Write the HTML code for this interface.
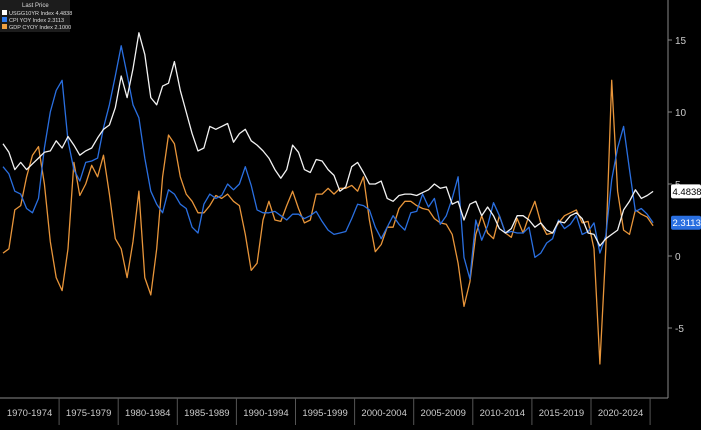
<!DOCTYPE html>
<html><head><meta charset="utf-8">
<style>
html,body{margin:0;padding:0;background:#000;}
body{width:701px;height:425px;overflow:hidden;font-family:"Liberation Sans",sans-serif;}
</style></head>
<body>
<svg id="chart" width="701" height="425" viewBox="0 0 701 425" xmlns="http://www.w3.org/2000/svg">
<rect x="0" y="0" width="701" height="425" fill="#000"/>
<g id="grid"></g>
<g id="series"></g>
<g id="legend">
<rect x="0" y="0" width="70" height="32" fill="#1c1c1c"/>
<text x="22" y="7" fill="#ddd" font-size="6">Last Price</text>
<g><rect x="2" y="10" width="5" height="5" fill="#fff"/><text x="9" y="15" fill="#ddd" font-size="5.5">USGG10YR Index 4.4838</text></g>
<g><rect x="2" y="17" width="5" height="5" fill="#2e7bf0"/><text x="9" y="22" fill="#ddd" font-size="5.5">CPI YOY Index   2.3113</text></g>
<g><rect x="2" y="24" width="5" height="5" fill="#f0a040"/><text x="9" y="29" fill="#ddd" font-size="5.5">GDP CYOY Index 2.1000</text></g>
</g>
<g id="tags"></g>
</svg>
<script>
const startYear = 1970;
const stepYears = 0.5;
const yTicks = [15, 10, 5, 0, -5];
const periodLabels = ["1970-1974","1975-1979","1980-1984","1985-1989","1990-1994","1995-1999","2000-2004","2005-2009","2010-2014","2015-2019","2020-2024"];
const us10y = [7.8,7.2,6.0,6.5,6.0,6.4,6.8,7.2,7.3,8.0,7.5,8.3,7.7,7.0,7.3,7.5,8.2,8.8,9.1,10.3,12.5,11.0,13.0,15.5,14.0,11.0,10.5,11.8,12.0,13.5,11.5,10.0,8.5,7.3,7.5,9.0,8.8,9.0,9.2,7.9,8.5,8.8,8.0,7.7,7.3,6.8,6.0,5.4,6.0,7.7,7.2,6.0,5.8,6.7,6.6,6.0,5.6,4.5,4.8,6.2,6.5,5.8,5.0,5.0,5.2,4.0,3.8,4.2,4.3,4.3,4.2,4.4,4.6,5.0,4.7,4.8,3.6,3.8,2.5,3.6,3.8,2.8,3.4,2.8,1.9,1.6,1.9,2.8,2.8,2.5,2.0,2.3,1.8,1.6,2.4,2.3,2.8,3.0,2.6,1.6,1.5,0.7,1.2,1.5,1.8,3.2,3.8,4.6,4.0,4.2,4.4838];
const cpi = [6.2,5.7,4.5,4.3,3.3,3.0,4.0,7.5,10.0,11.5,12.2,8.0,6.0,5.2,6.5,6.6,6.8,8.9,10.5,12.5,14.6,12.6,10.5,9.6,6.8,4.5,3.6,3.0,4.6,4.3,3.6,3.3,2.0,1.6,3.6,4.3,4.0,4.2,5.0,4.6,5.0,6.2,4.9,3.2,3.0,3.0,3.1,2.8,2.5,2.9,2.9,2.6,2.8,3.1,2.4,1.8,1.5,1.6,1.7,2.6,3.6,3.5,3.2,2.0,1.2,2.0,2.8,2.2,1.8,3.0,3.1,4.3,3.4,4.0,2.2,2.8,4.0,5.5,-0.1,-1.6,2.5,1.1,2.1,3.7,2.8,1.6,1.7,1.6,1.6,2.0,-0.1,0.2,0.9,1.2,2.5,1.9,2.2,2.8,1.5,1.7,2.3,0.2,1.4,5.3,7.5,9.0,6.0,3.1,3.3,2.9,2.3113];
const gdp = [0.2,0.5,3.2,3.5,5.5,7.0,7.6,5.0,1.0,-1.5,-2.4,0.5,6.5,4.2,5.0,6.3,5.5,7.0,4.3,1.2,0.5,-1.5,1.0,4.5,-1.5,-2.7,0.5,5.5,8.4,7.8,5.5,4.3,3.8,3.0,3.0,3.5,4.2,4.0,4.3,3.8,3.5,1.5,-1.0,-0.5,2.5,3.8,2.5,2.4,3.5,4.5,3.3,2.3,2.5,4.3,4.3,4.7,4.3,4.7,4.7,4.9,4.5,5.5,2.5,0.3,0.8,2.0,2.0,3.3,3.8,3.8,3.5,3.3,3.2,2.6,2.3,2.2,1.5,-0.5,-3.5,-1.8,1.5,2.8,1.6,1.2,2.8,1.6,1.3,2.6,1.6,2.8,3.8,2.3,1.5,1.6,2.3,2.8,3.0,3.2,2.3,2.4,0.5,-7.5,0.5,12.2,4.5,1.8,1.5,3.2,2.9,2.7,2.1];

const NS = "http://www.w3.org/2000/svg";
function xScale(year){ return 3 + (year - 1970) * 11.82; }
function yScale(v){ return 256 - v * 14.4; }
function mk(tag, attrs, parent){ const e=document.createElementNS(NS,tag); for(const k in attrs) e.setAttribute(k, attrs[k]); parent.appendChild(e); return e; }

const grid = document.getElementById('grid');
let ax = mk('line',{x1:0,y1:398,x2:668,y2:398,stroke:'#888','stroke-width':1},grid);


let ay = mk('line',{x1:668,y1:0,x2:668,y2:398,stroke:'#888','stroke-width':1},grid);


yTicks.forEach(v=>{
  const y=yScale(v);
  const tk=mk('line',{x1:668,y1:y,x2:672,y2:y,stroke:'#888'},grid);
  
  
  const t=mk('text',{x:675,y:y+4,fill:'#ccc','font-size':10},grid);
  t.textContent=String(v);
  
  
});
periodLabels.forEach((lab,i)=>{
  const x0=xScale(1970+i*5)-3, x1=xScale(1975+i*5)-3;
  const s=mk('line',{x1:x1,y1:398,x2:x1,y2:425,stroke:'#555'},grid);
  
  
  const t=mk('text',{x:(x0+x1)/2,y:416,fill:'#ccc','font-size':9.5,'text-anchor':'middle'},grid);
  t.textContent=lab;
  
  
});
const seriesG=document.getElementById('series');
function draw(arr,color,name){
  const d=arr.map((v,i)=>(i?'L':'M')+xScale(startYear+i*stepYears).toFixed(1)+','+yScale(v).toFixed(1)).join(' ');
  const p=mk('path',{d:d,fill:'none',stroke:color,'stroke-width':1.3,'stroke-linejoin':'round'},seriesG);
  
  
}
draw(gdp,'#e8953a','gdp-line');
draw(cpi,'#2a6fe0','cpi-line');
draw(us10y,'#f2f2f2','us10y-line');

const tags=document.getElementById('tags');
function tag(val,bg,fg,name){
  const y=yScale(val);
  const r=mk('rect',{x:671,y:y-7,width:30,height:14,fill:bg,rx:2},tags);
  
  
  const t=mk('text',{x:672.5,y:y+3.5,fill:fg,'font-size':9.5},tags);
  t.textContent=val.toFixed(4);
  
  
}
tag(us10y[us10y.length-1],'#fff','#000','us10y-last-price');
tag(cpi[cpi.length-1],'#2a6fe0','#fff','cpi-last-price');
</script>
</body></html>
